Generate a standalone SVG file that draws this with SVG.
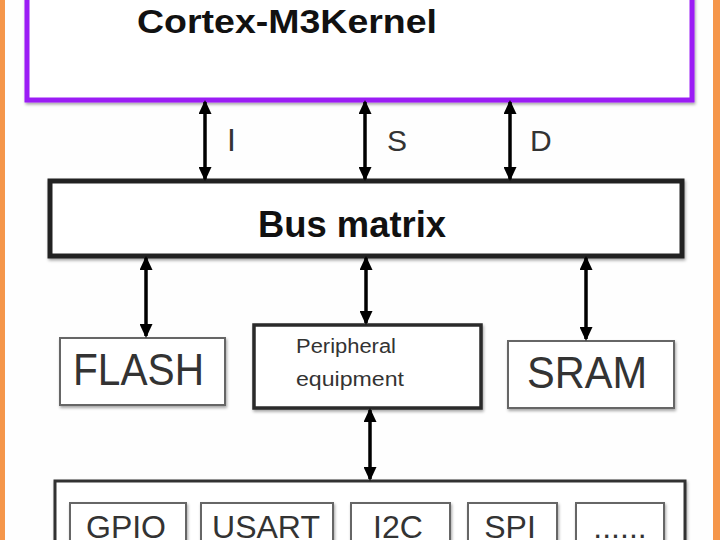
<svg xmlns="http://www.w3.org/2000/svg" width="720" height="540" viewBox="0 0 720 540">
<style>
.box{fill:#fff;filter:url(#sh)}
.heavy{stroke:#222;stroke-width:5}
.mid{stroke:#2a2a2a;stroke-width:3.5}
.light{stroke:#666;stroke-width:2}
.conn{stroke:#000;stroke-width:3.5;fill:none;marker-start:url(#ah);marker-end:url(#ah)}
.title{font-family:"Liberation Sans",Arial,sans-serif;font-weight:bold;fill:#111}
.lbl{font-family:"Liberation Sans",Arial,sans-serif;fill:#333}
</style>
<defs>
<filter id="sh" x="-10%" y="-10%" width="120%" height="130%">
<feDropShadow dx="1" dy="2" stdDeviation="1.5" flood-color="#000" flood-opacity="0.35"/>
</filter>
<marker id="ah" markerUnits="userSpaceOnUse" markerWidth="14" markerHeight="13" viewBox="0 0 14 13" refX="12" refY="6.5" orient="auto-start-reverse">
<path d="M0,0 L14,6.5 L0,13 z" fill="#000"/>
</marker>
</defs>
<rect x="0" y="0" width="720" height="540" fill="#fefefe"/>
<rect x="0" y="0" width="5" height="540" fill="#f5964a"/>
<rect x="713" y="0" width="7" height="540" fill="#f5964a"/>

<g id="cortex">
<rect class="box" x="27" y="-10" width="665" height="110" stroke="#9b1cf5" stroke-width="5"/>
<text class="title" x="137" y="33" font-size="34" textLength="300" lengthAdjust="spacingAndGlyphs">Cortex-M3Kernel</text>
</g>

<g id="busmatrix">
<rect class="box heavy" x="50" y="181" width="632" height="75"/>
<text class="title" x="352" y="237" font-size="36" text-anchor="middle" textLength="188" lengthAdjust="spacingAndGlyphs">Bus matrix</text>
</g>

<g id="flash">
<rect class="box light" x="60" y="338" width="165" height="67"/>
<text class="lbl" x="73" y="385" font-size="44" textLength="131" lengthAdjust="spacingAndGlyphs">FLASH</text>
</g>

<g id="peripheral">
<rect class="box mid" x="254" y="325" width="227" height="83"/>
<text class="lbl" x="296" y="353" font-size="20" textLength="100" lengthAdjust="spacingAndGlyphs">Peripheral</text>
<text class="lbl" x="296" y="386" font-size="20" textLength="108" lengthAdjust="spacingAndGlyphs">equipment</text>
</g>

<g id="sram">
<rect class="box light" x="508" y="341" width="166" height="67"/>
<text class="lbl" x="527" y="388" font-size="44" textLength="120" lengthAdjust="spacingAndGlyphs">SRAM</text>
</g>

<g id="peripherals">
<rect class="box" x="55" y="481" width="630" height="80" stroke="#333" stroke-width="3"/>
<g id="gpio">
<rect class="box light" x="70" y="503" width="116" height="60"/>
<text class="lbl" x="126" y="538" font-size="32" text-anchor="middle">GPIO</text>
</g>
<g id="usart">
<rect class="box light" x="201" y="503" width="132" height="60"/>
<text class="lbl" x="266" y="538" font-size="32" text-anchor="middle">USART</text>
</g>
<g id="i2c">
<rect class="box light" x="351" y="503" width="99" height="60"/>
<text class="lbl" x="398" y="538" font-size="32" text-anchor="middle">I2C</text>
</g>
<g id="spi">
<rect class="box light" x="468" y="503" width="89" height="60"/>
<text class="lbl" x="510" y="538" font-size="32" text-anchor="middle">SPI</text>
</g>
<g id="more">
<rect class="box light" x="576" y="503" width="88" height="60"/>
<text class="lbl" x="620" y="538" font-size="32" text-anchor="middle">......</text>
</g>
</g>

<g id="connectors">
<path class="conn" d="M205,102 L205,179"/>
<path class="conn" d="M365,102 L365,179"/>
<path class="conn" d="M510,102 L510,179"/>
<path class="conn" d="M146,258 L146,336"/>
<path class="conn" d="M366,258 L366,323"/>
<path class="conn" d="M586,258 L586,339"/>
<path class="conn" d="M370,410 L370,479"/>
<text class="lbl" x="227" y="151" font-size="32" fill="#444">I</text>
<text class="lbl" x="387" y="151" font-size="30" fill="#444">S</text>
<text class="lbl" x="530" y="151" font-size="30" fill="#444">D</text>
</g>
</svg>
